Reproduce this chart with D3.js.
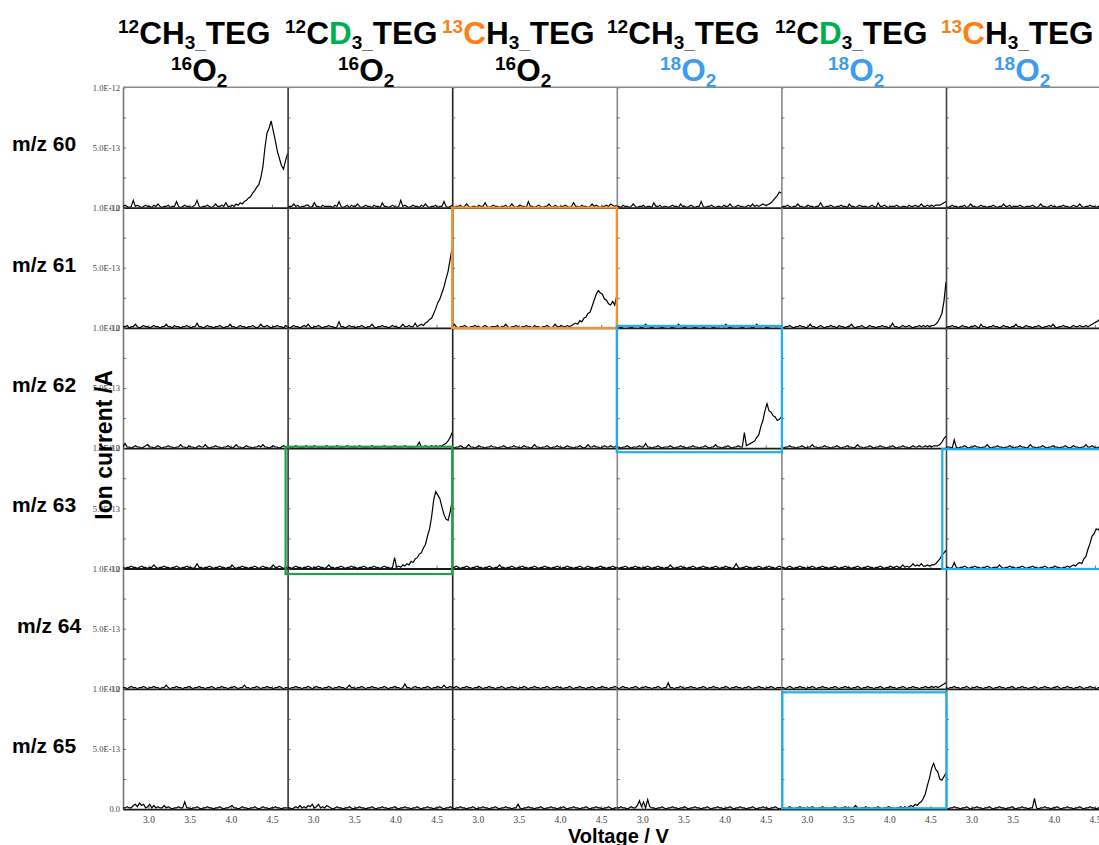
<!DOCTYPE html>
<html>
<head>
<meta charset="utf-8">
<script src="https://cdn.jsdelivr.net/npm/d3@7"></script>
<style>
  body { margin: 0; background: #fff; }
  svg { display: block; }
</style>
</head>
<body>
<svg id="chart" width="1099" height="845"></svg>
<script>
// ---- column headers: methyl isotopologue of TEG and oxygen isotope ----
const carbonIsotope = ["12", "12", "13", "12", "12", "13"];
const methylAtom    = ["H", "D", "H", "H", "D", "H"];
const oxygenIsotope = ["16", "16", "16", "18", "18", "18"];

// ---- row labels (monitored mass channels) ----
const massLabels = ["m/z 60", "m/z 61", "m/z 62", "m/z 63", "m/z 64", "m/z 65"];

// ---- axes ----
const voltTicks = [3.0, 3.5, 4.0, 4.5];
const currentTicks = [0, 50, 100];                 // in units of 1e-14 A
const currentTickLabels = ["0.0", "5.0E-13", "1.0E-12"];
const currentMinorTicks = [0, 25, 50, 75, 100];

// ---- sampling of each trace: 81 points, 25 mV apart, ending at 4.69 V ----
const voltEnd = 4.69, voltStep = 0.025;

// ---- ion current traces (units of 1e-14 A), one array per column ----
const mz60 = [
  [1,2,1,0,1,6,1,2,1,0,1,2,1,1,0,2,1,3,1,0,1,1,2,0,1,1,5,1,0,1,2,1,1,0,1,2,6,1,0,1,1,2,1,0,1,3,1,1,2,1,4,1,
   1,2,1,3,2,4,3,5,6,8,9,12,14,17,19,25,34,50,62,66,72,64,56,47,41,35,32,39,45],
  [0,1,1,3,1,2,0,1,1,2,2,0,1,4,1,1,0,2,1,1,1,1,0,2,1,5,1,0,1,2,0,2,1,1,3,1,0,1,2,1,1,0,2,1,1,0,4,1,1,0,1,2,1,0,1,6,1,2,1,0,1,2,1,1,0,2,1,3,1,0,1,1,2,0,1,1,5,1,0,1,2],
  [1,0,1,1,2,0,1,3,1,0,1,1,0,2,1,1,4,1,0,1,2,1,1,0,1,1,2,0,1,3,1,0,1,2,1,1,0,5,1,1,0,1,2,1,0,1,1,3,1,0,2,1,0,1,1,2,1,0,1,4,1,1,0,2,1,1,0,1,3,1,2,1,0,1,1,2,1,3,2,1,2],
  [1,1,0,2,1,1,0,1,3,1,0,1,1,2,0,1,1,0,4,1,1,2,0,1,1,0,1,2,1,1,0,3,1,1,0,1,2,1,0,1,1,5,1,0,1,1,2,1,0,1,1,0,2,1,1,3,1,0,1,2,1,1,0,1,2,1,3,1,2,1,2,3,2,2,3,4,6,8,10,13,12],
  [0,1,1,2,1,0,1,1,3,1,1,0,1,2,1,1,0,1,1,4,1,0,1,1,2,1,0,1,1,2,1,1,0,3,1,1,0,1,2,1,1,1,0,1,2,1,0,4,1,1,2,1,0,1,1,1,2,1,0,1,1,0,2,1,1,2,1,1,3,1,1,2,1,2,1,2,2,2,3,4,5],
  [1,0,1,2,1,1,0,1,1,2,0,1,3,1,1,0,1,2,1,1,0,1,1,2,1,0,1,1,3,1,1,2,0,1,1,1,2,1,0,1,1,1,2,1,0,1,3,1,1,0,1,2,1,1,0,1,1,2,1,1,0,1,2,1,1,3,1,0,1,1,2,1,1,0,1,1,2,1,1,0,1]
];
const mz61 = [
  [1,1,2,0,1,1,3,1,0,1,2,1,1,0,1,2,1,1,0,1,1,3,1,1,0,2,1,1,0,1,1,2,1,0,1,1,4,1,1,0,1,2,1,1,0,1,1,2,1,0,1,1,3,1,1,0,1,2,1,1,0,1,1,2,1,0,1,3,1,1,2,1,0,1,1,2,1,1,0,2,1],
  [1,0,1,2,1,1,0,1,2,1,3,1,0,1,1,2,1,0,1,1,2,1,1,0,1,5,1,1,0,1,2,1,1,0,1,1,2,1,0,1,1,3,1,0,1,1,2,1,1,0,1,2,1,1,0,1,3,1,1,2,1,1,4,1,
   2,3,2,4,5,7,8,12,16,21,24,29,34,41,47,57,67],
  [1,3,1,0,1,1,2,1,0,1,1,2,1,1,0,1,2,1,0,1,1,1,2,0,1,1,3,1,0,1,1,2,1,0,1,1,2,1,1,0,2,1,1,0,1,1,2,1,0,1,3,1,1,2,1,1,2,1,
   2,3,4,3,6,5,8,9,12,13,18,23,28,31,29,28,24,23,20,19,22,19,27],
  [1,1,0,1,2,1,1,0,1,1,2,1,0,1,3,1,1,0,1,2,1,1,0,1,1,2,1,0,1,1,3,1,1,0,1,2,1,1,0,1,1,2,0,1,1,2,1,0,1,1,1,2,1,3,1,0,1,1,2,1,1,0,1,2,1,1,0,1,3,1,1,2,1,0,1,1,2,1,1,2,1],
  [1,0,1,1,2,1,0,1,1,2,1,1,0,1,3,1,1,0,1,2,1,0,1,1,2,1,1,0,2,1,1,0,1,1,3,1,0,1,1,2,1,0,1,2,1,1,0,1,1,2,1,1,0,1,4,1,1,0,1,2,1,1,2,1,0,1,1,2,1,2,1,2,1,2,2,3,5,8,12,22,38],
  [0,1,1,2,1,1,0,1,2,1,1,0,1,1,2,1,0,3,1,1,0,1,1,2,1,1,0,1,2,1,1,0,1,1,3,1,1,0,1,2,1,1,0,1,1,2,1,0,1,1,2,1,3,1,0,1,1,2,1,1,0,1,2,1,1,2,1,1,2,1,
   2,3,4,5,6,8,10,12,14,16,18]
];
const mz62 = [
  [1,4,1,1,0,1,2,1,1,0,1,2,3,1,1,0,1,2,1,0,1,1,2,1,1,0,1,1,3,1,1,0,2,1,1,0,1,2,1,1,3,1,0,1,1,2,1,1,0,1,1,2,1,0,1,3,1,1,0,1,2,1,1,0,1,1,2,1,3,1,1,0,1,2,1,1,0,1,2,1,1],
  [1,1,0,1,2,1,1,0,1,2,1,1,0,2,1,1,0,1,1,2,1,0,1,1,2,1,0,1,1,2,1,1,0,1,1,2,1,1,0,1,1,2,1,0,1,1,1,2,1,1,0,1,2,1,0,1,1,2,1,1,0,1,1,2,5,1,1,2,1,1,2,1,2,1,2,2,3,4,6,9,13],
  [1,0,1,1,2,1,0,1,3,1,1,0,1,2,1,1,0,1,1,2,1,1,0,1,1,2,1,0,1,1,2,1,1,0,1,2,1,1,0,1,3,1,1,0,1,1,2,1,0,1,1,2,1,1,0,1,2,1,1,0,1,1,2,1,0,1,3,1,1,2,1,1,0,1,2,1,1,2,1,1,2],
  [1,1,0,1,1,2,1,0,1,1,1,2,1,1,4,1,1,0,1,1,2,1,0,1,1,1,2,1,0,1,1,2,1,1,0,1,1,2,1,1,0,1,1,2,1,0,1,1,3,1,1,0,1,1,2,1,0,1,1,2,1,1,
   13,2,3,4,5,6,9,11,18,23,31,37,31,30,27,26,23,24,26],
  [1,0,1,1,2,1,1,0,1,1,2,1,0,1,1,3,1,1,0,1,1,2,1,1,0,1,1,2,1,0,1,1,2,1,1,0,1,3,1,1,0,1,1,2,1,0,1,1,2,1,1,0,1,1,2,1,0,1,1,2,1,1,0,1,2,1,1,2,1,1,2,1,2,1,2,2,2,3,5,8,10],
  [1,1,1,0,7,1,0,1,1,2,1,0,1,1,2,1,1,0,1,1,3,1,0,1,1,2,1,1,0,1,1,2,1,0,1,1,2,1,1,0,1,3,1,1,0,1,1,2,1,0,1,1,2,1,1,0,1,1,2,1,0,1,2,1,1,0,1,1,3,1,1,2,1,0,1,1,2,1,1,0,1]
];
const mz63 = [
  [1,0,1,1,2,1,1,0,1,2,1,1,0,1,1,3,1,0,1,1,2,1,1,0,1,1,2,1,0,1,1,2,1,1,0,1,4,1,1,0,1,1,2,1,0,1,1,2,1,1,0,1,1,3,1,0,1,1,2,1,1,0,1,1,2,1,0,1,2,1,1,0,1,3,1,1,2,1,0,1,1],
  [1,1,0,1,2,1,1,0,1,1,2,1,0,1,1,2,1,1,0,1,3,1,1,0,1,1,2,1,0,1,1,2,1,1,0,1,1,2,1,0,1,1,2,1,1,0,1,2,1,1,0,1,
   9,1,2,1,3,2,4,3,6,5,8,9,12,13,17,20,27,33,43,57,64,61,58,51,45,41,40,47,56],
  [1,1,2,1,0,1,1,2,1,0,1,1,2,1,1,0,1,1,2,1,0,1,1,3,1,1,0,1,1,2,1,0,1,1,2,1,1,0,1,1,2,1,0,1,1,2,1,1,0,1,1,2,1,0,1,1,2,1,1,0,1,1,2,1,0,1,2,1,1,0,1,1,2,1,1,0,1,1,2,1,1],
  [1,0,1,1,2,1,0,1,1,2,1,1,0,1,1,2,1,0,1,1,2,1,1,0,1,1,3,1,0,1,1,2,1,1,0,1,1,2,1,0,1,1,2,1,1,0,1,1,2,1,0,1,1,2,1,1,0,1,4,1,0,1,1,2,1,1,0,1,1,2,1,0,1,1,2,1,1,0,1,2,1],
  [1,1,0,1,2,1,0,1,1,2,1,1,0,1,1,2,1,0,1,1,2,1,1,0,1,1,2,1,0,1,1,2,1,1,0,1,1,2,1,0,1,1,2,1,1,0,1,1,2,1,0,1,1,2,1,1,2,1,1,3,1,2,1,2,4,2,3,2,4,2,2,3,2,3,3,4,6,8,11,13,15],
  [1,1,0,1,5,1,0,1,1,2,1,0,1,1,2,1,1,0,1,1,2,1,0,1,1,1,3,1,0,1,1,2,1,1,0,1,1,2,1,0,1,1,2,1,1,0,1,1,2,1,0,1,1,2,1,1,0,1,1,2,1,
   2,3,2,4,5,4,8,10,16,21,27,29,33,32,35,36,35,37,38,38]
];
const mz64 = [
  [1,1,0,1,2,1,1,0,1,1,2,1,0,1,1,2,1,1,0,1,1,3,1,0,1,1,2,1,1,0,1,1,2,1,0,1,1,2,1,1,0,1,1,2,1,0,1,1,2,1,1,0,1,1,2,1,0,1,1,3,1,1,0,1,1,2,1,0,1,1,2,1,1,0,1,1,2,1,0,1,1],
  [1,0,1,1,2,1,1,0,1,1,2,1,0,1,2,1,1,0,1,1,2,1,0,1,1,2,1,1,0,1,3,1,1,0,1,1,2,1,0,1,1,2,1,1,0,1,1,2,1,0,1,1,2,1,1,0,1,4,1,1,0,1,2,1,1,0,1,1,2,1,0,1,1,2,1,1,3,1,1,2,1],
  [1,1,2,1,0,1,1,2,1,1,0,1,1,2,1,0,1,1,2,1,1,0,1,1,2,1,0,1,1,2,1,1,0,1,1,2,1,0,1,1,2,1,1,0,1,1,2,1,0,1,1,2,1,1,0,1,1,2,1,0,1,1,2,1,1,0,1,1,2,1,0,1,1,2,1,1,0,1,1,2,1],
  [1,0,1,2,1,1,0,1,1,2,1,0,1,1,2,1,1,0,1,1,2,1,0,1,1,5,1,1,0,1,1,2,1,0,1,1,2,1,1,0,1,1,2,1,0,1,1,2,1,1,0,1,1,2,1,0,1,1,2,1,1,0,1,1,2,1,0,1,1,2,1,1,0,1,1,2,1,0,1,1,1],
  [1,1,0,1,2,1,0,1,1,2,1,1,0,1,1,2,1,0,1,1,2,1,1,0,1,1,2,1,0,1,1,2,1,1,0,1,1,2,1,0,1,1,2,1,1,0,1,1,2,1,0,1,1,2,1,1,0,1,1,2,1,0,1,1,2,1,1,0,1,1,2,1,1,2,1,2,1,2,3,4,5],
  [1,0,1,1,2,1,1,0,1,1,2,1,0,1,1,2,1,1,0,1,1,2,1,0,1,1,2,1,1,0,1,1,2,1,0,1,1,2,1,1,0,1,1,2,1,0,1,1,2,1,1,0,1,1,2,1,0,1,1,2,1,1,0,1,1,2,1,0,1,1,2,1,1,0,1,1,2,1,0,1,1]
];
const mz65 = [
  [1,1,2,1,1,3,4,2,5,3,4,1,2,4,1,3,1,2,1,1,3,1,2,1,0,1,1,2,1,1,6,1,1,0,1,1,2,1,0,1,1,2,1,1,0,1,1,2,1,0,1,1,2,3,1,1,0,1,2,1,1,0,1,1,2,1,0,1,2,1,1,0,1,1,2,1,1,0,1,1,1],
  [1,1,0,1,2,1,3,1,2,1,3,2,4,1,2,4,1,2,1,3,2,1,0,1,2,1,1,0,1,1,2,1,0,1,1,2,1,1,0,1,1,2,1,0,1,1,2,1,1,0,1,1,2,1,0,1,1,2,1,1,0,1,1,2,1,0,1,1,2,1,1,0,1,1,2,1,0,1,1,2,1],
  [1,0,1,1,2,1,1,0,1,1,2,1,0,1,1,2,1,1,0,1,1,2,1,0,1,1,2,1,1,0,1,1,4,1,0,1,1,2,1,1,0,1,1,2,1,0,1,1,2,1,1,0,1,1,2,1,0,1,1,2,1,1,0,1,1,2,1,0,1,1,2,1,1,0,1,1,2,1,0,1,1],
  [1,1,2,1,1,0,1,2,1,1,3,7,2,6,1,8,2,1,1,0,1,1,2,1,0,1,1,2,1,1,0,1,1,2,1,0,1,1,2,1,1,0,1,1,2,1,0,1,1,2,1,1,0,1,1,2,1,0,1,1,2,1,1,0,1,1,2,1,0,1,1,2,1,1,0,1,1,2,1,0,1],
  [1,1,0,1,2,1,0,1,1,2,1,1,0,1,1,2,1,0,1,1,2,1,1,0,1,1,2,1,0,1,1,2,1,1,0,1,3,1,0,1,1,2,1,1,0,1,1,2,1,0,1,1,2,1,1,0,1,1,2,1,2,1,
   2,3,2,4,3,5,6,9,13,20,26,34,38,33,31,25,24,27,30],
  [1,0,1,1,2,1,1,0,1,1,2,1,0,1,1,2,1,1,0,1,1,2,1,0,1,1,2,1,1,0,1,1,2,1,0,1,1,2,1,1,0,1,1,9,1,0,1,1,2,1,1,0,1,1,2,1,0,1,1,2,1,1,0,1,1,2,1,0,1,1,2,1,1,0,1,1,2,1,0,1,1]
];
const traces = [mz60, mz61, mz62, mz63, mz64, mz65];

// ---- panels singled out with a coloured frame: [row, column, colour key] ----
const framedPanels = [[1, 2, "orange"], [2, 3, "blue"], [3, 1, "green"], [3, 5, "blue"], [5, 4, "blue"]];

// ---------------- layout and styling ----------------
const palette = { orange: "#f7931e", green: "#1fa149", blue: "#1cb1ea", text13C: "#ff7f17", textD: "#00b050", text18O: "#3d9bf0" };
const frameGrowth = { // [top, right, bottom, left] growth of each frame beyond its panel
  "1,2": [0, 0, 0, 0], "2,3": [2, 0.5, 4, 0], "3,1": [1.5, 0, 5.5, 2], "3,5": [-1, 0, 0.5, 3.7], "5,4": [-3.5, 0.5, -0.8, -1]
};
const plotLeft = 123, plotTop = 87.3, panelW = 164.6, panelH = 120.3;
const nRows = 6, nCols = 6;
const sans = "'Liberation Sans', Arial, Helvetica, sans-serif";
const serif = "'Liberation Serif', 'Times New Roman', serif";
const headerX = [118, 285, 442, 607, 775, 941];
const separatorTone = ["#777", "#333", "#222", "#888", "#888", "#444"];

const svg = d3.select("#chart");
const defs = svg.append("defs");

function panelScales(r, c) {
  const x = d3.scaleLinear().domain([2.69, 4.69]).range([plotLeft + c * panelW, plotLeft + (c + 1) * panelW]);
  const y = d3.scaleLinear().domain([0, 100]).range([plotTop + (r + 1) * panelH, plotTop + r * panelH]);
  return { x, y };
}

const gAxes = svg.append("g");
const gData = svg.append("g");
const gFrames = svg.append("g");

for (let r = 0; r < nRows; r++) {
  for (let c = 0; c < nCols; c++) {
    const { x, y } = panelScales(r, c);
    const x0 = x.range()[0], x1 = x.range()[1];
    const yb = y.range()[0], yt = y.range()[1];

    // left axis of the panel (frame line with inward ticks)
    const ya = gAxes.append("g").attr("transform", `translate(${x0},0)`)
      .call(d3.axisLeft(y).tickValues(currentMinorTicks).tickSize(-3).tickSizeOuter(0).tickFormat(""));
    ya.select(".domain").attr("stroke", separatorTone[c]).attr("stroke-width", 1.6);
    ya.selectAll(".tick line").attr("stroke", "#555").attr("stroke-width", 0.8);

    if (c === 0) {
      const yl = gAxes.append("g").attr("transform", `translate(${x0 - 2},0)`)
        .call(d3.axisLeft(y).tickValues(currentTicks).tickSize(0).tickPadding(1)
          .tickFormat((d, i) => currentTickLabels[i]));
      yl.select(".domain").remove();
      yl.selectAll("text").attr("font-family", serif).attr("font-size", 8.5).attr("fill", "#444");
    }

    // bottom axis: baseline with inward ticks
    const xa = gAxes.append("g").attr("transform", `translate(0,${yb})`)
      .call(d3.axisBottom(x).tickValues(voltTicks).tickSize(-3).tickSizeOuter(0)
        .tickFormat(r === nRows - 1 ? d3.format(".1f") : ""));
    xa.select(".domain").attr("stroke", "#1a1a1a").attr("stroke-width", 1.8);
    xa.selectAll(".tick line").attr("stroke", "#555").attr("stroke-width", 0.8);
    xa.selectAll("text").attr("font-family", serif).attr("font-size", 9.5).attr("fill", "#444").attr("dy", "1.15em");

    // trace, clipped to its panel
    const id = `clip-${r}-${c}`;
    defs.append("clipPath").attr("id", id).append("rect")
      .attr("x", x0).attr("y", yt - 2).attr("width", x1 - x0).attr("height", yb - yt + 2);
    const vals = traces[r][c];
    const n = vals.length;
    const line = d3.line()
      .x((d, i) => x(voltEnd - voltStep * (n - 1 - i)))
      .y(d => y(d));
    gData.append("path").datum(vals)
      .attr("clip-path", `url(#${id})`)
      .attr("d", line)
      .attr("fill", "none").attr("stroke", "#000").attr("stroke-width", 1.2)
      .attr("stroke-linejoin", "miter");
  }
}

// top border of the first row
gAxes.append("line").attr("x1", plotLeft).attr("x2", 1099).attr("y1", plotTop).attr("y2", plotTop)
  .attr("stroke", "#8a8a8a").attr("stroke-width", 1.4);

// coloured frames around selected panels
framedPanels.forEach(([r, c, key]) => {
  const { x, y } = panelScales(r, c);
  const g = frameGrowth[`${r},${c}`];
  const x0 = x.range()[0] - g[3], x1 = x.range()[1] + g[1];
  const y0 = y.range()[1] - g[0], y1 = y.range()[0] + g[2];
  gFrames.append("rect").attr("x", x0).attr("y", y0).attr("width", x1 - x0).attr("height", y1 - y0)
    .attr("fill", "none").attr("stroke", palette[key]).attr("stroke-width", 2.2);
});

// column headers
const gHead = svg.append("g").attr("font-family", sans).attr("font-weight", "bold");
for (let c = 0; c < nCols; c++) {
  const x = headerX[c];
  const cCol = carbonIsotope[c] === "13" ? palette.text13C : "#000";
  const hCol = methylAtom[c] === "D" ? palette.textD : "#000";
  const oCol = oxygenIsotope[c] === "18" ? palette.text18O : "#000";
  const t1 = gHead.append("text").attr("x", x).attr("y", 43.5);
  t1.append("tspan").attr("y", 33).attr("font-size", 19).attr("fill", cCol).text(carbonIsotope[c]);
  t1.append("tspan").attr("y", 43.5).attr("font-size", 31.5).attr("fill", cCol).text("C");
  t1.append("tspan").attr("y", 43.5).attr("font-size", 31.5).attr("fill", hCol).text(methylAtom[c]);
  t1.append("tspan").attr("y", 49).attr("font-size", 19).attr("fill", "#000").text("3_");
  t1.append("tspan").attr("y", 43.5).attr("font-size", 31.5).attr("fill", "#000").text("TEG");

  const t2 = gHead.append("text").attr("x", x + 53).attr("y", 81).attr("fill", oCol);
  t2.append("tspan").attr("y", 70).attr("font-size", 19).text(oxygenIsotope[c]);
  t2.append("tspan").attr("y", 81).attr("font-size", 31.5).text("O");
  t2.append("tspan").attr("y", 87).attr("font-size", 19).text("2");
}

// row labels
const labelX = [12, 12, 12, 12, 17, 12];
massLabels.forEach((m, r) => {
  svg.append("text").attr("x", labelX[r]).attr("y", plotTop + (r + 0.5) * panelH + 4)
    .attr("font-family", sans).attr("font-weight", "bold").attr("font-size", 21).attr("fill", "#000")
    .text(m);
});

// axis titles
svg.append("text")
  .attr("transform", `translate(112,445) rotate(-90)`)
  .attr("text-anchor", "middle")
  .attr("font-family", sans).attr("font-weight", "bold").attr("font-size", 23).attr("fill", "#000")
  .text("Ion current /A");

svg.append("text").attr("x", 568).attr("y", 843)
  .attr("font-family", sans).attr("font-weight", "bold").attr("font-size", 20).attr("fill", "#000")
  .text("Voltage / V");
</script>
</body>
</html>
